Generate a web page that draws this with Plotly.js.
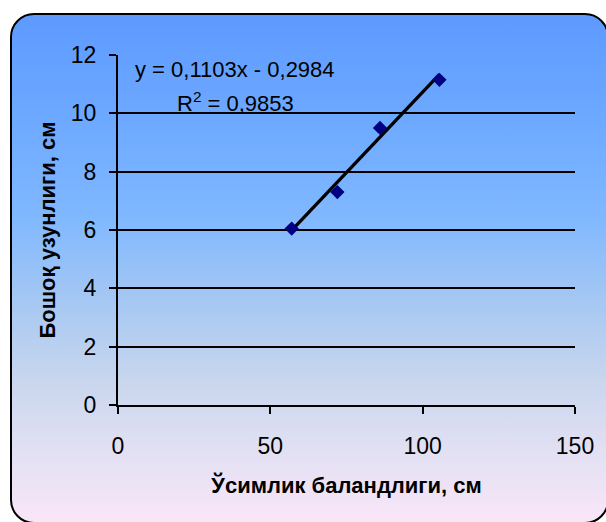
<!DOCTYPE html>
<html>
<head>
<meta charset="utf-8">
<script src="https://cdn.plot.ly/plotly-3.0.1.min.js"></script>
<style>
  html, body { margin: 0; padding: 0; background: #ffffff; }
  #wrap { position: relative; width: 606px; height: 522px; overflow: hidden; background: #ffffff; }
  #frame {
    position: absolute; left: 10px; top: 13px; width: 599px; height: 511px;
    box-sizing: border-box; border: 2.5px solid #000; border-radius: 24px;
    background: linear-gradient(to bottom, #5e9aff 0%, #6eaaff 22%, #80b8ff 40%, #a9c9f2 58%, #c8d6ee 72%, #e2e0f3 86%, #f9e6f8 100%);
  }
  #chart { position: absolute; left: 0; top: 0; width: 606px; height: 522px; }
</style>
</head>
<body>
<div id="wrap">
  <div id="frame"></div>
  <div id="chart"></div>
</div>
<script>
// Data
var plantHeight = [57, 72, 86, 105.5];       // x: Ўсимлик баландлиги, см
var spikeLength = [6.05, 7.3, 9.5, 11.15];   // y: Бошоқ узунлиги, см
var trendSlope = 0.1103;
var trendIntercept = -0.2984;
var equationText = "y = 0,1103x - 0,2984";
var r2Text = "R<sup>2</sup> = 0,9853";
var xTicks = [0, 50, 100, 150];
var yTicks = [0, 2, 4, 6, 8, 10, 12];

var xMin = Math.min.apply(null, plantHeight);
var xMax = Math.max.apply(null, plantHeight);
var trendX = [xMin, xMax];
var trendY = trendX.map(function (v) { return trendSlope * v + trendIntercept; });

var font = "Liberation Sans, Arial, sans-serif";

var traces = [
  {
    x: trendX, y: trendY, mode: "lines", type: "scatter",
    line: { color: "#000000", width: 3.3 }, hoverinfo: "skip"
  },
  {
    x: plantHeight, y: spikeLength, mode: "markers", type: "scatter",
    marker: { symbol: "diamond", color: "#000080", size: 11, line: { width: 0 } }
  }
];

var layout = {
  width: 606, height: 522,
  paper_bgcolor: "rgba(0,0,0,0)",
  plot_bgcolor: "rgba(0,0,0,0)",
  showlegend: false,
  margin: { l: 118, r: 31, t: 55, b: 117 },
  font: { family: font, color: "#000000", size: 22 },
  xaxis: {
    range: [0, 150], tickvals: xTicks, ticktext: xTicks.map(String),
    showgrid: false, zeroline: false,
    showline: true, linecolor: "#000", linewidth: 2,
    ticks: "outside", ticklen: 7, tickwidth: 2, tickcolor: "#000",
    ticklabelstandoff: 12,
    tickfont: { family: font, size: 23, color: "#000" },
    title: { text: "<b>Ўсимлик баландлиги, см</b>", font: { family: font, size: 22, color: "#000" }, standoff: 20 },
    fixedrange: true
  },
  yaxis: {
    range: [0, 12], tickvals: yTicks, ticktext: yTicks.map(String),
    showgrid: true, gridcolor: "#000", gridwidth: 2,
    zeroline: false,
    showline: true, linecolor: "#000", linewidth: 2,
    ticks: "outside", ticklen: 7, tickwidth: 2, tickcolor: "#000",
    ticklabelstandoff: 8,
    tickfont: { family: font, size: 23, color: "#000" },
    title: { text: "<b>Бошоқ узунлиги, см</b>", font: { family: font, size: 22, color: "#000" }, standoff: 9 },
    fixedrange: true
  },
  annotations: [
    { xref: "x", yref: "y", x: 4.9, y: 11.52, text: equationText, showarrow: false, align: "left",
      font: { family: font, size: 22, color: "#000" }, xanchor: "left", yanchor: "middle" },
    { xref: "x", yref: "y", x: 18.7, y: 10.38, text: r2Text, showarrow: false, align: "left",
      font: { family: font, size: 22, color: "#000" }, xanchor: "left", yanchor: "middle" }
  ]
};

Plotly.newPlot("chart", traces, layout, { displayModeBar: false, staticPlot: true });
</script>
</body>
</html>
